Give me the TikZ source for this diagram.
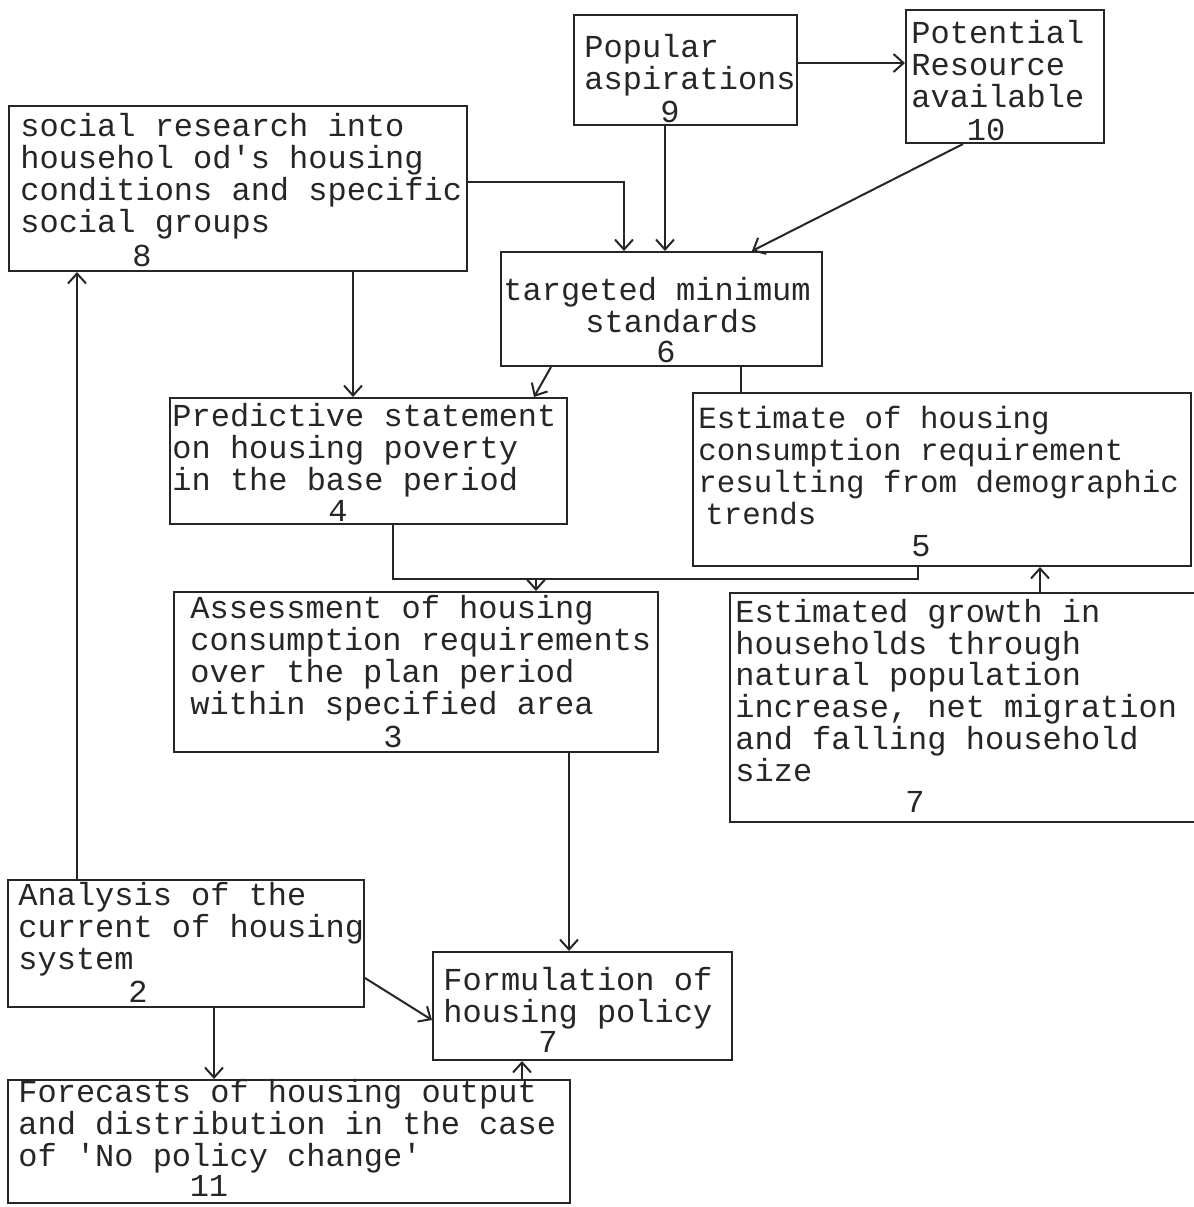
\documentclass[tikz,border=0pt]{standalone}
\usepackage{fontspec}
\setmonofont{Liberation Mono}
\usetikzlibrary{arrows.meta,calc}
\newcommand\flowbox[5]{%
  \node[ink, inner sep=0pt, minimum width={(#4-#2)*0.5pt}, minimum height={(#5-#3)*0.5pt}]
    (#1) at ({(#2+#4)/2},{(#3+#5)/2}) {};}
\begin{document}
\begin{tikzpicture}[x=0.5pt,y=-0.5pt,
  ink/.style={draw=black!85, line width=1pt},
  arr/.style={ink, -{Straight Barb[length=5pt,width=9pt,line width=1pt]}},
  % multi-line labels are placed by the baseline of their last line
  lbl/.style={anchor=base west, inner sep=0pt, align=left,
    font=\ttfamily\fontsize{16pt}{15.85pt}\selectfont, text=black!85},
  num/.style={anchor=base, inner sep=0pt,
    font=\ttfamily\fontsize{16pt}{15.85pt}\selectfont, text=black!85}]
\useasboundingbox (0,0) rectangle (1194,1207);
\clip (0,0) rectangle (1194,1207);

% boxes
\flowbox{b9}{574}{15}{797}{125}
\flowbox{b10}{906}{10}{1104}{143}
\flowbox{b8}{9}{106}{467}{271}
\flowbox{b6}{501}{252}{822}{366}
\flowbox{b4}{170}{398}{567}{524}
\flowbox{b5}{693}{393}{1191}{566}
\flowbox{b3}{174}{592}{658}{752}
\flowbox{b7r}{730}{593}{1210}{822}
\flowbox{b2}{8}{880}{364}{1007}
\flowbox{bF}{433}{952}{732}{1060}
\flowbox{b11}{8}{1080}{570}{1203}

% texts
\node[lbl] (t9) at (584,89) {Popular\\aspirations};
\node[num] (n9) at (670,122) {9};
\node[lbl] (t10) at (911,107) {Potential\\Resource\\available};
\node[num] (n10) at (986,140) {10};
\node[lbl] (t8) at (20,232) {social research into\\househol od's housing\\conditions and specific\\social groups};
\node[num] (n8) at (142,266) {8};
\node[lbl] (t6) at (503,332) {targeted minimum\\\hspace*{41pt}standards};
\node[num] (n6) at (666,362) {6};
\node[lbl] (t4) at (172,490) {Predictive statement\\on housing poverty\\in the base period};
\node[num] (n4) at (338,521) {4};
\node[lbl] (t3) at (190,714) {Assessment of housing\\consumption requirements\\over the plan period\\within specified area};
\node[num] (n3) at (393,747) {3};
\node[lbl, font=\ttfamily\fontsize{15.4pt}{15.85pt}\selectfont] (t5) at (698,524)
  {Estimate of housing\\consumption requirement\\resulting from demographic\\\hspace*{3.5pt}trends};
\node[num] (n5) at (921,556) {5};
\node[lbl] (t7r) at (735,781) {Estimated growth in\\households through\\natural population\\increase, net migration\\and falling household\\size};
\node[num] (n7r) at (915,812) {7};
\node[lbl] (tF) at (443,1022) {Formulation of\\housing policy};
\node[num] (nF) at (548,1052) {7};
\node[lbl] (t2) at (18,969) {Analysis of the\\current of housing\\system};
\node[num] (n2) at (138,1002) {2};
\node[lbl] (t11) at (18,1166) {Forecasts of housing output\\and distribution in the case\\of 'No policy change'};
\node[num] (n11) at (209,1196) {11};

% guide levels for the connectors
\coordinate (h1) at (0,63);
\coordinate (h2) at (0,182);
\coordinate (h3) at (0,579);
\coordinate (h4) at (0,978);
\coordinate (h5) at (0,1020);
\coordinate (v1) at (624,0);
\coordinate (v2) at (665,0);
\coordinate (v3) at (741,0);
\coordinate (v4) at (353,0);
\coordinate (v5) at (551,0);
\coordinate (v6) at (534,0);
\coordinate (v7) at (393,0);
\coordinate (v8) at (918,0);
\coordinate (v9) at (536,0);
\coordinate (v10) at (1040,0);
\coordinate (v11) at (569,0);
\coordinate (v12) at (77,0);
\coordinate (v13) at (214,0);
\coordinate (v14) at (522,0);

% connectors
\draw[arr] (b9.east |- h1) -- (b10.west |- h1);
\draw[arr] ($(b10.south west)!0.29!(b10.south east)$) -- ($(b6.north west)!0.78!(b6.north east)$);
\draw[arr] (b8.east |- h2) -| (b6.north -| v1);
\draw[arr] (b9.south -| v2) -- (b6.north -| v2);
\draw[ink] (b6.south -| v3) -- (b5.north -| v3);
\draw[arr] (b8.south -| v4) -- (b4.north -| v4);
\draw[arr] (b6.south -| v5) -- (b4.north -| v6);
\draw[ink] (b4.south -| v7) -- (v7 |- h3) -- (v8 |- h3) -- (b5.south -| v8);
\draw[arr] (v9 |- h3) -- (b3.north -| v9);
\draw[arr] (b7r.north -| v10) -- (b5.south -| v10);
\draw[arr] (b3.south -| v11) -- (bF.north -| v11);
\draw[arr] (b2.north -| v12) -- (b8.south -| v12);
\draw[arr] (b2.east |- h4) -- (bF.west |- h5);
\draw[arr] (b2.south -| v13) -- (b11.north -| v13);
\draw[arr] (b11.north -| v14) -- (bF.south -| v14);
\end{tikzpicture}
\end{document}
